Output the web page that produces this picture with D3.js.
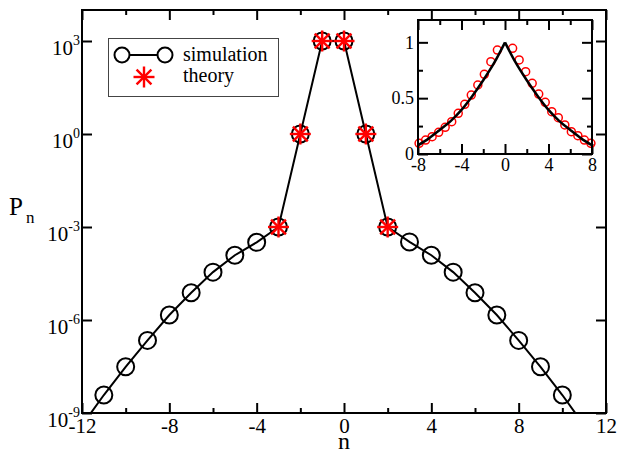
<!DOCTYPE html>
<html>
<head>
<meta charset="utf-8">
<script src="https://cdn.jsdelivr.net/npm/d3@7"></script>
<style>
body{margin:0;background:#fff}
svg, svg text{font-family:"Liberation Serif","DejaVu Serif","Noto Serif",Tinos,"Nimbus Roman","FreeSerif","Times New Roman",Times,serif}
</style>
</head>
<body>
<svg id="svg" width="618" height="455"></svg>
<script>
// main plot data
var nValues=[-12,-11,-10,-9,-8,-7,-6,-5,-4,-3,-2,-1,0,1,2,3,4,5,6,7,8,9,10,11];
var simulation=[4e-10,3.8e-9,3.1e-8,2.2e-7,1.45e-6,7.6e-6,3.5e-5,1.23e-4,3.2e-4,1e-3,1,1000,
	1000,1,1e-3,3.3e-4,1.23e-4,3.5e-5,7.6e-6,1.45e-6,2.2e-7,3.1e-8,3.8e-9,4e-10];
var theoryN=[-3,-2,-1,0,1,2];
var theory=[1e-3,1,1000,1000,1,1e-3];
var xTicks=[-12,-8,-4,0,4,8,12];
var xMinor=[-10,-6,-2,2,6,10];
var yTicks=[1e-9,1e-6,1e-3,1,1e3];
var yExp=['-9','-6','-3','0','3'];

// inset data
var insetX=[-7.9,-7.3,-6.7,-6.1,-5.5,-4.9,-4.3,-3.7,-3.1,-2.5,-1.9,-1.3,-0.7,
	0.7,1.3,1.9,2.5,3.1,3.7,4.3,4.9,5.5,6.1,6.7,7.3,7.9];
var insetP=[0.096,0.125,0.155,0.194,0.239,0.289,0.364,0.445,0.528,0.618,0.714,0.827,0.931,
	0.946,0.842,0.737,0.633,0.537,0.463,0.379,0.325,0.26,0.2,0.164,0.125,0.096];
var curveX=[-8,-7,-6,-5,-4,-3,-2,-1,0,1,2,3,4,5,6,7,8];
var curveP=[0.078,0.14,0.215,0.295,0.395,0.52,0.66,0.815,1,0.815,0.66,0.52,0.395,0.295,0.215,0.14,0.078];
var insetXTicks=[-8,-4,0,4,8];
var insetXMinor=[-6,-2,2,6];
var insetYTicks=[0,0.5,1];
var insetYMinor=[0.25,0.75];

var FONT='"Liberation Serif","DejaVu Serif","Noto Serif",Tinos,"Nimbus Roman",FreeSerif,"Times New Roman",Times,serif';
var svg=d3.select("#svg");
var plot={left:82,top:10,right:606,bottom:413};
var w=plot.right-plot.left, h=plot.bottom-plot.top;

var xscale=d3.scaleLinear().domain([-12,12]).range([0,w]);
var yscale=d3.scaleLog().domain([1e-9,1e4]).range([h,0]);

var g=svg.append("g").attr("transform","translate("+plot.left+","+plot.top+")");

svg.append("defs").append("clipPath").attr("id","clipMain")
	.append("rect").attr("width",w).attr("height",h);

function plain(d){return String(d);}
function styleAxis(sel){
	sel.attr("font-family",FONT);
	sel.select(".domain").remove();
	sel.selectAll(".tick line").attr("stroke","#000").attr("stroke-width",2);
}
function labelFont(size){
	return function(a){a.selectAll("text").attr("font-size",size).attr("fill","#000");};
}

// bottom axis
g.append("g").attr("transform","translate(0,"+h+")")
	.call(d3.axisBottom(xscale).tickValues(xTicks).tickFormat(plain).tickSizeInner(-10).tickSizeOuter(0).tickPadding(5))
	.call(styleAxis).call(labelFont(21));
g.append("g").attr("transform","translate(0,"+h+")")
	.call(d3.axisBottom(xscale).tickValues(xMinor).tickFormat("").tickSizeInner(-5).tickSizeOuter(0))
	.call(styleAxis);
// top axis
g.append("g")
	.call(d3.axisTop(xscale).tickValues(xTicks).tickFormat("").tickSizeInner(-10).tickSizeOuter(0))
	.call(styleAxis);
g.append("g")
	.call(d3.axisTop(xscale).tickValues(xMinor).tickFormat("").tickSizeInner(-5).tickSizeOuter(0))
	.call(styleAxis);
// left axis with 10^k labels
g.append("g")
	.call(d3.axisLeft(yscale).tickValues(yTicks).tickSizeInner(-10).tickSizeOuter(0).tickPadding(2))
	.call(styleAxis)
	.call(function(a){
		a.selectAll("text").each(function(d,i){
			var t=d3.select(this).text("").attr("dy",null).attr("y",13)
				.attr("font-size",21).attr("fill","#000");
			t.append("tspan").text("10");
			t.append("tspan").attr("dy",-10).attr("font-size",14).text(yExp[i]);
		});
	});
// right axis
g.append("g").attr("transform","translate("+w+",0)")
	.call(d3.axisRight(yscale).tickValues(yTicks).tickFormat("").tickSizeInner(-10).tickSizeOuter(0))
	.call(styleAxis);

// data
var data=nValues.map(function(d,i){return {n:d,p:simulation[i]};});
var tdata=theoryN.map(function(d,i){return {n:d,p:theory[i]};});

var dataG=g.append("g").attr("clip-path","url(#clipMain)");
var line=d3.line().x(function(d){return xscale(d.n);}).y(function(d){return yscale(d.p);});
dataG.append("path").datum(data).attr("d",line)
	.attr("fill","none").attr("stroke","#000").attr("stroke-width",2);
dataG.selectAll("circle.sim").data(data).enter().append("circle")
	.attr("class","sim")
	.attr("cx",function(d){return xscale(d.n);})
	.attr("cy",function(d){return yscale(d.p);})
	.attr("r",8.5).attr("fill","none").attr("stroke","#000").attr("stroke-width",2);

function star(sel,r){
	[0,45,90,135].forEach(function(a){
		var rad=a*Math.PI/180;
		sel.append("line")
			.attr("x1",-r*Math.cos(rad)).attr("y1",-r*Math.sin(rad))
			.attr("x2",r*Math.cos(rad)).attr("y2",r*Math.sin(rad))
			.attr("stroke","#ff0000").attr("stroke-width",2.4);
	});
}
dataG.selectAll("g.star").data(tdata).enter().append("g")
	.attr("class","star")
	.attr("transform",function(d){return "translate("+xscale(d.n)+","+yscale(d.p)+")";})
	.each(function(){star(d3.select(this),10.5);});

// frame
g.append("rect").attr("width",w).attr("height",h)
	.attr("fill","none").attr("stroke","#000").attr("stroke-width",2);

// axis titles
svg.append("text").attr("x",344).attr("y",449).attr("text-anchor","middle")
	.attr("font-size",24).text("n");
var pn=svg.append("text").attr("x",9).attr("y",215).attr("font-size",25);
pn.append("tspan").text("P");
pn.append("tspan").attr("dx",3).attr("dy",8).attr("font-size",17).text("n");

// legend
var leg=svg.append("g");
leg.append("rect").attr("x",108.5).attr("y",38.5).attr("width",170).attr("height",58)
	.attr("fill","#fff").attr("stroke","#444").attr("stroke-width",1);
leg.append("line").attr("x1",122).attr("x2",165).attr("y1",55).attr("y2",55)
	.attr("stroke","#000").attr("stroke-width",2);
[122,165].forEach(function(cx){
	leg.append("circle").attr("cx",cx).attr("cy",55).attr("r",7.5)
		.attr("fill","#fff").attr("stroke","#000").attr("stroke-width",2);
});
star(leg.append("g").attr("transform","translate(144,77)"),10.5);
leg.append("text").attr("x",183).attr("y",61).attr("font-size",20).text("simulation");
leg.append("text").attr("x",183).attr("y",82).attr("font-size",20).text("theory");

// inset
var inset={left:418,top:20,right:592,bottom:154};
var iw=inset.right-inset.left, ih=inset.bottom-inset.top;
var ix=d3.scaleLinear().domain([-8,8]).range([0,iw]);
var iy=d3.scaleLinear().domain([0,1.2]).range([ih,0]);
var ig=svg.append("g").attr("transform","translate("+inset.left+","+inset.top+")");
ig.append("rect").attr("width",iw).attr("height",ih).attr("fill","#fff");

ig.append("g").attr("transform","translate(0,"+ih+")")
	.call(d3.axisBottom(ix).tickValues(insetXTicks).tickFormat(plain).tickSizeInner(-10).tickSizeOuter(0).tickPadding(4))
	.call(styleAxis).call(labelFont(18));
ig.append("g").attr("transform","translate(0,"+ih+")")
	.call(d3.axisBottom(ix).tickValues(insetXMinor).tickFormat("").tickSizeInner(-5).tickSizeOuter(0))
	.call(styleAxis);
ig.append("g")
	.call(d3.axisTop(ix).tickValues(insetXTicks).tickFormat("").tickSizeInner(-10).tickSizeOuter(0))
	.call(styleAxis);
ig.append("g")
	.call(d3.axisTop(ix).tickValues(insetXMinor).tickFormat("").tickSizeInner(-5).tickSizeOuter(0))
	.call(styleAxis);
ig.append("g")
	.call(d3.axisLeft(iy).tickValues(insetYTicks).tickFormat(plain).tickSizeInner(-10).tickSizeOuter(0).tickPadding(4))
	.call(styleAxis).call(labelFont(18));
ig.append("g")
	.call(d3.axisLeft(iy).tickValues(insetYMinor).tickFormat("").tickSizeInner(-5).tickSizeOuter(0))
	.call(styleAxis);
ig.append("g").attr("transform","translate("+iw+",0)")
	.call(d3.axisRight(iy).tickValues(insetYTicks).tickFormat("").tickSizeInner(-10).tickSizeOuter(0))
	.call(styleAxis);
ig.append("g").attr("transform","translate("+iw+",0)")
	.call(d3.axisRight(iy).tickValues(insetYMinor).tickFormat("").tickSizeInner(-5).tickSizeOuter(0))
	.call(styleAxis);

ig.selectAll("circle").data(insetX).enter().append("circle")
	.attr("cx",function(d){return ix(d);})
	.attr("cy",function(d,i){return iy(insetP[i]);})
	.attr("r",4).attr("fill","none").attr("stroke","#ff0000").attr("stroke-width",1.5);

var cdata=curveX.map(function(d,i){return {x:d,p:curveP[i]};});
var iline=d3.line().curve(d3.curveMonotoneX)
	.x(function(d){return ix(d.x);}).y(function(d){return iy(d.p);});
ig.append("path").datum(cdata.filter(function(d){return d.x<=0;})).attr("d",iline)
	.attr("fill","none").attr("stroke","#000").attr("stroke-width",2.5);
ig.append("path").datum(cdata.filter(function(d){return d.x>=0;})).attr("d",iline)
	.attr("fill","none").attr("stroke","#000").attr("stroke-width",2.5);

ig.append("rect").attr("width",iw).attr("height",ih)
	.attr("fill","none").attr("stroke","#000").attr("stroke-width",2);
</script>
</body>
</html>
